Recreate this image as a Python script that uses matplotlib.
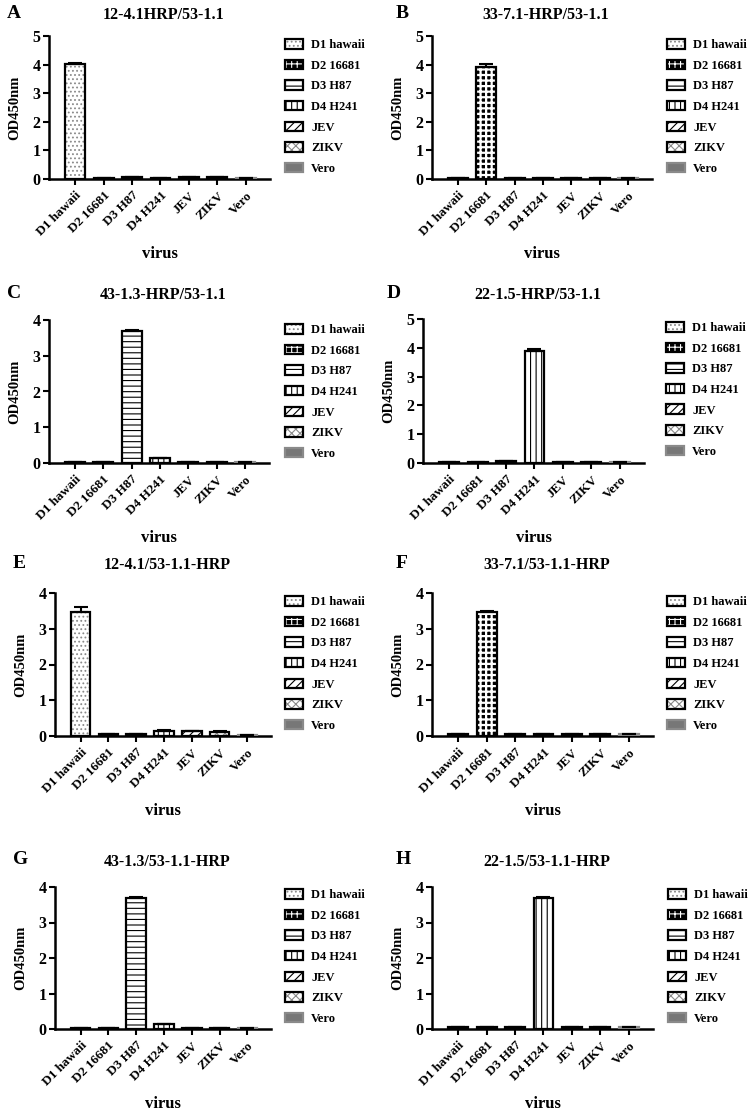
import matplotlib
matplotlib.use('Agg')
import matplotlib.pyplot as plt
from matplotlib.patches import Patch
import numpy as np

plt.rcParams['font.family'] = 'Liberation Serif'
plt.rcParams['font.weight'] = 'bold'
plt.rcParams['hatch.linewidth'] = 0.8

# ---- data ----
viruses = ['D1 hawaii', 'D2 16681', 'D3 H87', 'D4 H241', 'JEV', 'ZIKV', 'Vero']
panel_letters = ['A', 'B', 'C', 'D', 'E', 'F', 'G', 'H']
panel_titles = ['12-4.1HRP/53-1.1', '33-7.1-HRP/53-1.1', '43-1.3-HRP/53-1.1',
                '22-1.5-HRP/53-1.1', '12-4.1/53-1.1-HRP', '33-7.1/53-1.1-HRP',
                '43-1.3/53-1.1-HRP', '22-1.5/53-1.1-HRP']
y_max = [5, 5, 4, 5, 4, 4, 4, 4]

od_a = [4.02, 0.05, 0.07, 0.05, 0.06, 0.06, 0.04]
od_b = [0.05, 3.92, 0.05, 0.05, 0.05, 0.05, 0.05]
od_c = [0.04, 0.04, 3.68, 0.13, 0.04, 0.04, 0.04]
od_d = [0.05, 0.05, 0.06, 3.90, 0.05, 0.05, 0.05]
od_e = [3.47, 0.05, 0.06, 0.15, 0.13, 0.12, 0.04]
od_f = [0.05, 3.48, 0.05, 0.05, 0.05, 0.05, 0.05]
od_g = [0.04, 0.04, 3.68, 0.14, 0.04, 0.04, 0.04]
od_h = [0.05, 0.05, 0.05, 3.68, 0.05, 0.05, 0.05]

err_a = [0.02, 0, 0.01, 0, 0, 0, 0]
err_b = [0, 0.10, 0, 0, 0, 0, 0]
err_c = [0, 0, 0.05, 0.01, 0, 0, 0]
err_d = [0, 0, 0, 0.07, 0, 0, 0]
err_e = [0.15, 0, 0, 0.01, 0.01, 0.01, 0]
err_f = [0, 0.03, 0, 0, 0, 0, 0]
err_g = [0, 0, 0.05, 0.01, 0, 0, 0]
err_h = [0, 0, 0, 0.05, 0, 0, 0]

od_all = [od_a, od_b, od_c, od_d, od_e, od_f, od_g, od_h]
err_all = [err_a, err_b, err_c, err_d, err_e, err_f, err_g, err_h]

# ---- styles (face, hatch colour, hatch, outline, hatch width) ----
styles = [
    ('white', '#8a8a8a', '....', 'black', 0.8),
    ('black', 'white', '+++', 'black', 1.6),
    ('white', 'black', '---', 'black', 0.8),
    ('white', 'black', '|||', 'black', 0.8),
    ('white', 'black', '////', 'black', 0.8),
    ('white', '#8a8a8a', 'xxxx', 'black', 0.8),
    ('#777777', '#777777', None, '#8a8a8a', 0.8),
]

W, H = 750, 1110
fig = plt.figure(figsize=(W / 100, H / 100), dpi=100)


def fx(px):
    return px / W


def fy(py):
    return 1 - py / H


# pixel boxes: left, top, right, bottom of each axes
boxes = [(49, 36, 270, 179), (432, 36, 652, 179),
         (49, 320, 269, 463), (423, 319, 644, 463),
         (55, 593, 271, 736), (432, 593, 653, 736),
         (55, 887, 271, 1029), (432, 887, 653, 1029)]
legend_pos = [(285, 39), (667, 39), (285, 324), (666, 322),
              (285, 596), (667, 596), (285, 889), (668, 889)]
title_y = [15, 15, 295, 295, 565, 565, 862, 862]

x = np.arange(len(viruses))

for k in range(8):
    l, t, r, b = boxes[k]
    ax = fig.add_axes([fx(l), fy(b), fx(r) - fx(l), (b - t) / H])
    vals = od_all[k]
    errs = err_all[k]
    for i, (face, hcol, hatch, edge, hw) in enumerate(styles):
        with plt.rc_context({'hatch.linewidth': hw}):
            ax.bar(x[i], vals[i], 0.7, color=face, edgecolor=hcol, hatch=hatch,
                   linewidth=0, zorder=2)
        ax.bar(x[i], vals[i], 0.7, fill=False, edgecolor=edge, linewidth=1.6,
               zorder=3)
    ax.errorbar(x, vals, yerr=[np.zeros(len(errs)), errs], fmt='none',
                ecolor='black', elinewidth=1.5, capsize=5, capthick=1.5, zorder=4)

    ax.set_xlim(-0.92, 6.85)
    ax.set_ylim(0, y_max[k])
    ax.set_yticks(range(y_max[k] + 1))
    ax.set_xticks(x)
    ax.set_xticklabels(viruses, rotation=45, ha='right', rotation_mode='anchor',
                       fontsize=9.5)
    ax.tick_params(axis='y', labelsize=11.5, width=1.5, length=4, pad=2)
    ax.tick_params(axis='x', width=1.5, length=4)
    for s in ['top', 'right']:
        ax.spines[s].set_visible(False)
    for s in ['left', 'bottom']:
        ax.spines[s].set_linewidth(1.8)

    cx = (l + r) / 2
    fig.text(fx(cx + 4), fy(title_y[k]), panel_titles[k], ha='center',
             va='center', fontsize=11.5)
    fig.text(fx(l - 42 if l < 300 else l - 36), fy(title_y[k] - 2), panel_letters[k],
             ha='left', va='center', fontsize=14)
    fig.text(fx(l - 34), fy((t + b) / 2), 'OD450nm', rotation=90,
             ha='center', va='center', fontsize=10.5)
    fig.text(fx(cx), fy(b + 75), 'virus', ha='center', va='center', fontsize=12)

    handles = []
    for face, hcol, hatch, edge, hw in styles:
        with plt.rc_context({'hatch.linewidth': hw}):
            h1 = Patch(facecolor=face, edgecolor=hcol, hatch=hatch, linewidth=0)
        h2 = Patch(fill=False, edgecolor=edge, linewidth=1.6)
        handles.append((h1, h2))
    lx, ly = legend_pos[k]
    ax.legend(handles, viruses, loc='upper left',
              bbox_to_anchor=(fx(lx), fy(ly)), bbox_transform=fig.transFigure,
              frameon=False, fontsize=9, handlelength=1.4, handleheight=0.8,
              handletextpad=0.7, labelspacing=0.68, borderpad=0,
              borderaxespad=0)

plt.savefig('out.png', dpi=100, facecolor='white')
